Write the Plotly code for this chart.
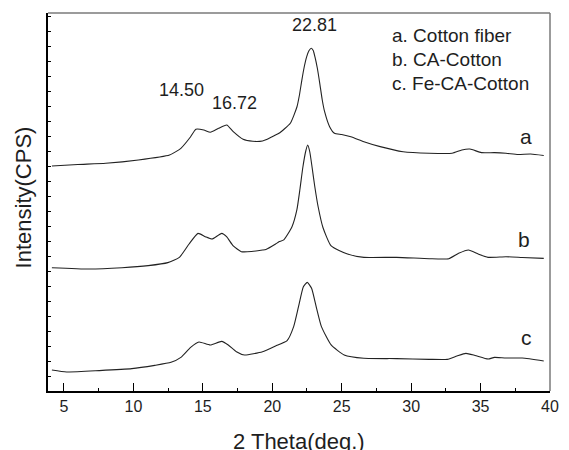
import plotly.graph_objects as go

# XRD patterns (2 theta in degrees, intensity in arbitrary offset units)
two_theta_a = [4.13, 6.0, 8.01, 10.36, 12.6, 13.42, 14.12, 14.50, 15.07, 15.54, 16.13, 16.72,
               17.19, 17.9, 18.6, 19.3, 19.54, 20.24, 20.48, 21.3, 21.78, 21.95, 22.13, 22.3,
               22.48, 22.65, 22.81, 22.95, 23.07, 23.25, 23.42, 23.6, 23.77, 24.13, 24.48,
               25.0, 25.66, 26.6, 27.77, 29.42, 31.3, 32.95, 33.65, 34.24, 35.06, 36.0,
               36.83, 37.7, 38.6, 39.55]
intensity_a = [15.0, 15.1, 15.18, 15.4, 15.73, 16.18, 16.95, 17.45, 17.4, 17.25, 17.51, 17.73,
               17.29, 16.78, 16.65, 16.67, 16.75, 17.07, 17.18, 17.85, 18.95, 19.7, 20.73, 21.6,
               22.29, 22.7, 22.85, 22.7, 22.29, 21.5, 20.51, 19.4, 18.62, 17.62, 17.18,
               17.1, 16.95, 16.62, 16.29, 15.95, 15.85, 15.85, 16.07, 16.13, 15.89, 15.89,
               15.85, 15.77, 15.8, 15.7]

two_theta_b = [4.13, 6.83, 9.18, 11.07, 12.48, 13.31, 14.01, 14.65, 15.18, 15.66, 16.36, 16.71,
               17.19, 17.77, 18.5, 19.3, 19.54, 20.24, 20.48, 20.83, 21.42, 21.77, 22.0, 22.2,
               22.4, 22.55, 22.7, 22.87, 23.05, 23.3, 23.65, 24.24, 25.42, 26.6, 28.95, 31.3,
               32.71, 33.42, 34.13, 34.83, 35.54, 36.83, 38.0, 39.55]
intensity_b = [8.22, 8.13, 8.22, 8.36, 8.56, 8.91, 9.8, 10.51, 10.29, 10.13, 10.51, 10.29,
               9.67, 9.29, 9.3, 9.4, 9.44, 9.8, 9.95, 10.07, 10.95, 12.07, 13.5, 14.9,
               15.95, 16.4, 15.95, 14.9, 13.7, 12.3, 10.9, 9.67, 9.13, 8.91, 8.91, 8.82,
               8.82, 9.18, 9.4, 9.13, 8.91, 8.95, 8.9, 8.84]

two_theta_c = [4.13, 5.19, 7.54, 9.89, 11.54, 12.71, 13.42, 14.12, 14.72, 15.54, 16.36, 16.83,
               17.42, 18.0, 19.3, 20.24, 21.07, 21.54, 21.89, 22.24, 22.52, 22.83, 23.19, 23.54,
               24.24, 25.18, 26.6, 28.95, 31.3, 32.6, 33.3, 33.94, 34.6, 35.54, 36.0, 36.83,
               38.0, 39.55]
intensity_c = [1.4, 1.27, 1.36, 1.49, 1.71, 1.91, 2.24, 2.91, 3.27, 3.07, 3.31, 3.07,
               2.62, 2.4, 2.62, 3.0, 3.36, 4.29, 5.62, 6.95, 7.24, 6.85, 5.51, 4.29,
               3.07, 2.4, 2.18, 2.16, 2.11, 2.11, 2.33, 2.51, 2.37, 2.13, 2.24, 2.2,
               2.2, 2.0]

# Peak positions marked on pattern a
peak_positions = [14.50, 16.72, 22.81]
peak_labels = ["14.50", "16.72", "22.81"]
peak_label_y = [20.07, 19.2, 24.4]
peak_label_shift = [-14, 8, 3]

curve_tags = ["a", "b", "c"]
curve_tag_x = [38.3, 38.1, 38.3]
curve_tag_y = [17.0, 10.1, 3.6]

legend_lines = ["a. Cotton fiber", "b. CA-Cotton", "c. Fe-CA-Cotton"]
legend_y = [23.67, 22.07, 20.53]

FONT = "Liberation Sans, Arial, sans-serif"
INK = "#1e1e1e"

fig = go.Figure()
for xs, ys in [(two_theta_a, intensity_a), (two_theta_b, intensity_b), (two_theta_c, intensity_c)]:
    fig.add_trace(go.Scatter(x=xs, y=ys, mode="lines",
                             line=dict(color="#222222", width=1.1, shape="spline", smoothing=0.5),
                             showlegend=False, hoverinfo="skip"))

annotations = []
for px, lab, ly, sh in zip(peak_positions, peak_labels, peak_label_y, peak_label_shift):
    annotations.append(dict(x=px, y=ly, text=lab, showarrow=False, xshift=sh,
                            font=dict(family=FONT, size=18, color=INK)))
for tag, tx, ty in zip(curve_tags, curve_tag_x, curve_tag_y):
    annotations.append(dict(x=tx, y=ty, text=tag, showarrow=False,
                            font=dict(family=FONT, size=21, color=INK)))
for line, ly in zip(legend_lines, legend_y):
    annotations.append(dict(x=28.5, y=ly, text=line, showarrow=False, xanchor="left",
                            font=dict(family=FONT, size=19, color=INK)))

# axis titles
annotations.append(dict(xref="paper", yref="paper", x=0.5, y=(391 - 441) / 378,
                        text="2 Theta(deg.)", showarrow=False, yanchor="middle",
                        font=dict(family=FONT, size=22, color=INK)))
annotations.append(dict(xref="paper", yref="paper", x=(23 - 48) / 511, y=(391 - 197) / 378,
                        text="Intensity(CPS)", showarrow=False, textangle=-90,
                        xanchor="center", yanchor="middle",
                        font=dict(family=FONT, size=22, color=INK)))

fig.update_layout(
    width=569, height=450,
    margin=dict(l=48, r=10, t=13, b=59),
    paper_bgcolor="white", plot_bgcolor="white",
    annotations=annotations,
    shapes=[
        dict(type="line", xref="paper", yref="paper", x0=0, x1=1, y0=1, y1=1,
             line=dict(color="#7a7a7a", width=1.5)),
        dict(type="line", xref="paper", yref="paper", x0=1, x1=1, y0=0, y1=1,
             line=dict(color="#7a7a7a", width=1.5)),
    ],
    xaxis=dict(range=[3.85, 40], tickmode="array", tickvals=[5, 10, 15, 20, 25, 30, 35, 40],
               ticks="inside", ticklen=8, tickwidth=1.3, tickcolor="black",
               minor=dict(ticks="inside", ticklen=3, tickwidth=1, tickcolor="black",
                          tickmode="array", tickvals=[7.5, 12.5, 17.5, 22.5, 27.5, 32.5, 37.5]),
               showline=True, linecolor="black", linewidth=2, showgrid=False, zeroline=False,
               tickfont=dict(family=FONT, size=16, color=INK)),
    yaxis=dict(range=[0, 25.2], dtick=1, tick0=0, ticks="inside", ticklen=3, tickwidth=1,
               tickcolor="black", showticklabels=False,
               showline=True, linecolor="black", linewidth=2, showgrid=False, zeroline=False),
)

fig.write_html("out.html")
